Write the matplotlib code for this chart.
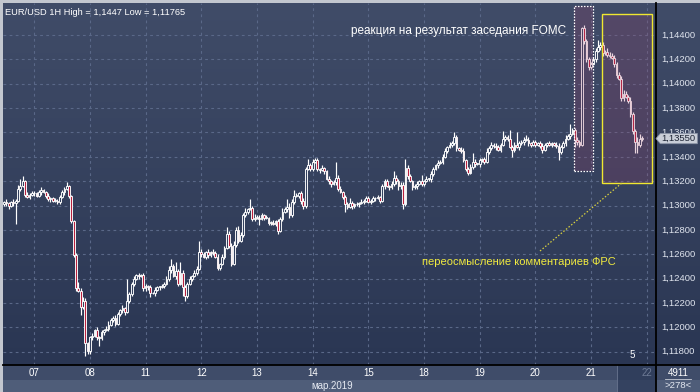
import numpy as np
import matplotlib
matplotlib.use("Agg")
import matplotlib.pyplot as plt
from matplotlib.patches import Rectangle, Polygon
from matplotlib.colors import LinearSegmentedColormap
from matplotlib.collections import LineCollection

plt.rcParams['font.family'] = ['Liberation Sans', 'DejaVu Sans']

# ---------------- data (EUR/USD, 1H candles) ----------------
first_open = 1.1301
close_mar06 = [1.1303, 1.1302, 1.1300, 1.1303, 1.1302, 1.1304, 1.1314, 1.1316, 1.1320, 1.1309, 1.1307, 1.1309, 1.1310]
close_mar07 = [1.1310, 1.1308, 1.1311, 1.1313, 1.1311, 1.1308, 1.1305, 1.1306, 1.1304, 1.1304, 1.1303, 1.1307,
               1.1311, 1.1314, 1.1316, 1.1308, 1.1287, 1.1259, 1.1232, 1.1230, 1.1217, 1.1222, 1.1187, 1.1181]
close_mar08 = [1.1192, 1.1193, 1.1198, 1.1192, 1.1191, 1.1196, 1.1198, 1.1199, 1.1202, 1.1206, 1.1208, 1.1203,
               1.1211, 1.1214, 1.1216, 1.1213, 1.1222, 1.1227, 1.1236, 1.1240, 1.1243, 1.1242, 1.1243, 1.1232]
close_mar11 = [1.1234, 1.1233, 1.1228, 1.1228, 1.1231, 1.1233, 1.1233, 1.1234, 1.1236, 1.1240, 1.1247, 1.1250,
               1.1242, 1.1246, 1.1236, 1.1245, 1.1233, 1.1226, 1.1236, 1.1240, 1.1242, 1.1245, 1.1248, 1.1262]
close_mar12 = [1.1260, 1.1258, 1.1262, 1.1259, 1.1262, 1.1261, 1.1258, 1.1249, 1.1252, 1.1258, 1.1265, 1.1277,
               1.1267, 1.1252, 1.1268, 1.1280, 1.1271, 1.1276, 1.1292, 1.1295, 1.1297, 1.1298, 1.1289, 1.1290]
close_mar13 = [1.1290, 1.1289, 1.1292, 1.1290, 1.1290, 1.1286, 1.1286, 1.1285, 1.1287, 1.1279, 1.1289, 1.1295,
               1.1297, 1.1299, 1.1292, 1.1303, 1.1308, 1.1308, 1.1310, 1.1304, 1.1300, 1.1330, 1.1333, 1.1330]
close_mar14 = [1.1336, 1.1337, 1.1330, 1.1329, 1.1331, 1.1328, 1.1322, 1.1320, 1.1318, 1.1319, 1.1323, 1.1314,
               1.1311, 1.1307, 1.1301, 1.1299, 1.1302, 1.1300, 1.1301, 1.1301, 1.1302, 1.1303, 1.1304, 1.1306]
close_mar15 = [1.1303, 1.1304, 1.1306, 1.1306, 1.1307, 1.1304, 1.1316, 1.1320, 1.1316, 1.1315, 1.1318, 1.1323,
               1.1320, 1.1316, 1.1317, 1.1301, 1.1331, 1.1324, 1.1320, 1.1315, 1.1316, 1.1318, 1.1320, 1.1318]
close_mar18 = [1.1320, 1.1322, 1.1322, 1.1326, 1.1330, 1.1333, 1.1335, 1.1336, 1.1340, 1.1345, 1.1348, 1.1350,
               1.1351, 1.1356, 1.1347, 1.1346, 1.1345, 1.1337, 1.1330, 1.1327, 1.1332, 1.1336, 1.1334, 1.1334]
close_mar19 = [1.1337, 1.1338, 1.1336, 1.1344, 1.1347, 1.1350, 1.1349, 1.1348, 1.1346, 1.1350, 1.1355, 1.1356,
               1.1355, 1.1348, 1.1346, 1.1350, 1.1348, 1.1351, 1.1352, 1.1354, 1.1354, 1.1351, 1.1350, 1.1352]
close_mar20 = [1.1350, 1.1351, 1.1349, 1.1346, 1.1350, 1.1351, 1.1350, 1.1351, 1.1350, 1.1349, 1.1344, 1.1348,
               1.1351, 1.1355, 1.1357, 1.1359, 1.1362, 1.1354, 1.1352, 1.1350, 1.1446, 1.1435, 1.1420, 1.1414]
close_mar21 = [1.1416, 1.1420, 1.1427, 1.1430, 1.1432, 1.1425, 1.1426, 1.1424, 1.1423, 1.1421, 1.1416, 1.1407,
               1.1404, 1.1388, 1.1392, 1.1389, 1.1386, 1.1375, 1.1361, 1.1352, 1.1350, 1.1355, 1.1355]

# upper / lower shadows in pips (beyond the candle body)
upper_mar06 = [1, 2, 1, 1, 2, 1, 3, 6, 4, 1, 2, 1, 2]
upper_mar07 = [2, 1, 2, 2, 1, 1, 2, 1, 1, 2, 1, 2, 2, 1, 3, 1, 1, 1, 2, 5, 2, 3, 2, 1]
upper_mar08 = [1, 2, 1, 2, 1, 2, 1, 2, 3, 2, 1, 2, 2, 1, 2, 1, 18, 2, 1, 2, 1, 2, 1, 2]
upper_mar11 = [2, 1, 2, 1, 2, 1, 1, 2, 1, 2, 3, 6, 2, 8, 2, 9, 2, 2, 1, 2, 1, 2, 2, 9]
upper_mar12 = [2, 2, 1, 2, 1, 2, 2, 2, 1, 2, 2, 5, 2, 2, 3, 2, 3, 2, 2, 3, 1, 7, 2, 3]
upper_mar13 = [2, 2, 2, 1, 2, 1, 1, 2, 1, 2, 2, 3, 2, 6, 3, 2, 5, 2, 1, 2, 2, 2, 5, 2]
upper_mar14 = [2, 2, 2, 1, 2, 1, 1, 2, 1, 2, 13, 2, 2, 1, 2, 2, 4, 2, 1, 2, 1, 2, 1, 2]
upper_mar15 = [2, 1, 2, 1, 2, 1, 2, 2, 2, 1, 2, 5, 2, 2, 2, 2, 7, 2, 2, 1, 2, 2, 1, 5]
upper_mar18 = [1, 2, 1, 2, 2, 1, 2, 1, 2, 2, 1, 2, 2, 4, 2, 1, 2, 2, 1, 2, 2, 7, 2, 1]
upper_mar19 = [2, 1, 2, 3, 2, 2, 1, 2, 2, 1, 6, 2, 2, 7, 2, 2, 10, 2, 2, 2, 4, 2, 1, 2]
upper_mar20 = [2, 1, 2, 2, 1, 1, 2, 1, 1, 2, 2, 2, 2, 3, 2, 8, 2, 2, 2, 2, 1, 2, 2, 2]
upper_mar21 = [2, 2, 2, 6, 2, 2, 2, 3, 2, 2, 3, 2, 3, 2, 3, 2, 2, 3, 2, 2, 4, 4, 2]

lower_mar06 = [1, 2, 3, 1, 2, 17, 1, 2, 1, 2, 1, 2, 1]
lower_mar07 = [2, 1, 1, 2, 1, 2, 1, 2, 1, 1, 2, 2, 1, 2, 1, 2, 1, 1, 2, 1, 7, 2, 10.5, 3]
lower_mar08 = [3, 2, 1, 2, 6, 1, 2, 1, 2, 1, 2, 2, 1, 2, 2, 3, 1, 2, 1, 2, 1, 2, 1, 2]
lower_mar11 = [2, 2, 3, 1, 2, 1, 2, 1, 2, 1, 2, 2, 1, 2, 2, 1, 7, 4, 2, 1, 2, 1, 2, 1]
lower_mar12 = [2, 1, 2, 2, 1, 2, 1, 2, 2, 1, 2, 1, 2, 2, 1, 2, 2, 1, 2, 1, 2, 1, 2, 2]
lower_mar13 = [1, 5, 1, 2, 1, 2, 2, 1, 2, 2, 1, 2, 1, 2, 2, 1, 2, 1, 2, 3, 3, 2, 1, 2]
lower_mar14 = [2, 1, 2, 2, 1, 2, 1, 2, 3, 1, 2, 2, 1, 2, 6, 2, 1, 3, 2, 1, 2, 1, 2, 1]
lower_mar15 = [1, 2, 1, 2, 1, 2, 1, 2, 1, 2, 1, 2, 2, 3, 2, 4, 1, 2, 1, 2, 1, 2, 1, 2]
lower_mar18 = [2, 1, 2, 3, 2, 1, 2, 1, 2, 1, 2, 1, 2, 1, 2, 1, 2, 1, 2, 2, 1, 2, 2, 1]
lower_mar19 = [2, 1, 2, 1, 2, 1, 2, 2, 1, 2, 1, 2, 2, 1, 6, 2, 1, 2, 1, 2, 1, 2, 2, 1]
lower_mar20 = [2, 1, 2, 3, 1, 2, 1, 2, 1, 2, 7, 2, 1, 2, 1, 2, 1, 6, 2, 2, 1, 2, 2, 3]
lower_mar21 = [2, 1, 2, 1, 2, 2, 1, 2, 2, 1, 2, 2, 1, 2, 2, 1, 2, 2, 2, 9, 7, 2, 2]

day_labels = ['07', '08', '11', '12', '13', '14', '15', '18', '19', '20', '21', '22']
bars_first_day = 13
bars_per_day = 24
price_ticks = [1.118, 1.120, 1.122, 1.124, 1.126, 1.128, 1.130, 1.132, 1.134, 1.136, 1.138, 1.140, 1.142, 1.144]
last_price = 1.1355
title = "EUR/USD 1H High = 1,1447 Low = 1,11765"
note_fomc = "реакция на результат заседания FOMC"
note_fed = "переосмысление комментариев ФРС"
month_label = "мар.2019"

# ---------------- assemble ----------------
closes = np.array(close_mar06 + close_mar07 + close_mar08 + close_mar11 + close_mar12 + close_mar13 +
                  close_mar14 + close_mar15 + close_mar18 + close_mar19 + close_mar20 + close_mar21)
upper = np.array(upper_mar06 + upper_mar07 + upper_mar08 + upper_mar11 + upper_mar12 + upper_mar13 +
                 upper_mar14 + upper_mar15 + upper_mar18 + upper_mar19 + upper_mar20 + upper_mar21) * 1e-4
lower = np.array(lower_mar06 + lower_mar07 + lower_mar08 + lower_mar11 + lower_mar12 + lower_mar13 +
                 lower_mar14 + lower_mar15 + lower_mar18 + lower_mar19 + lower_mar20 + lower_mar21) * 1e-4
opens = np.concatenate([[first_open], closes[:-1]])
highs = np.maximum(opens, closes) + upper
lows = np.minimum(opens, closes) - lower
n = len(closes)
day_starts = [bars_first_day + k * bars_per_day for k in range(len(day_labels))]

# ---------------- figure ----------------
W, H = 700, 392
fig = plt.figure(figsize=(W / 100, H / 100), dpi=100)
fig.patch.set_facecolor('#c3c7cf')


def px_axes(x0, y0, x1, y1):
    return fig.add_axes([x0 / W, 1 - y1 / H, (x1 - x0) / W, (y1 - y0) / H])


bg_cmap = LinearSegmentedColormap.from_list('bg', ['#2a3653', '#404c68'])
grad = np.linspace(0, 1, 256).reshape(-1, 1)

XL = (-0.47, 281.0)
YL = (1.11691, 1.14663)

ax = px_axes(3, 3, 656, 365)
ax.set_xlim(*XL)
ax.set_ylim(*YL)
ax.imshow(grad, extent=[XL[0], XL[1], YL[0], YL[1]], origin='lower', aspect='auto',
          cmap=bg_cmap, zorder=0, interpolation='bilinear')
for s in ax.spines.values():
    s.set_visible(False)
ax.set_xticks([])
ax.set_yticks([])

grid_kw = dict(color='#5a6888', lw=0.8, ls=(0, (2.5, 3)), zorder=1)
for p in price_ticks:
    ax.axhline(p, **grid_kw)
for d in day_starts:
    ax.axvline(d, **grid_kw)

# candles
segs = [[(i, lows[i]), (i, highs[i])] for i in range(n)]
ax.add_collection(LineCollection(segs, colors='white', linewidths=0.85, zorder=3))
bw = 0.76
for i in range(n):
    lo, hi = min(opens[i], closes[i]), max(opens[i], closes[i])
    h = max(hi - lo, 0.00006)
    fc = '#b8203e' if closes[i] < opens[i] else '#34415f'
    ax.add_patch(Rectangle((i - bw / 2, lo), bw, h, facecolor=fc, edgecolor='white',
                           lw=0.65, zorder=4))

# highlight boxes
ax.add_patch(Rectangle((245.6, 1.13283), 8.2, 1.14638 - 1.13283, facecolor='#a0406a', alpha=0.22,
                       edgecolor='none', zorder=5))
ax.add_patch(Rectangle((245.6, 1.13283), 8.2, 1.14638 - 1.13283, facecolor='none',
                       edgecolor='white', lw=0.9, ls=(0, (1.2, 1.2)), zorder=6))
ax.add_patch(Rectangle((257.7, 1.13185), 21.6, 1.14572 - 1.13185, facecolor='#a0406a', alpha=0.22,
                       edgecolor='none', zorder=5))
ax.add_patch(Rectangle((257.7, 1.13185), 21.6, 1.14572 - 1.13185, facecolor='none',
                       edgecolor='#f0e830', lw=1.0, zorder=6))
ax.plot([231.0, 266.3], [1.12627, 1.13185], color='#d8d040', lw=0.9, ls=(0, (1.2, 1.5)), zorder=6)

ax.text(0.003, 0.985, title, transform=ax.transAxes, color='white', fontsize=6.7, va='top', ha='left', zorder=7)
ax.text(563.5 / 653, 1 - 28 / 362, note_fomc, transform=ax.transAxes, color='white', fontsize=8.5,
        va='center', ha='right', zorder=7)
ax.text(613 / 653, 1 - 259 / 362, note_fed, transform=ax.transAxes, color='#f0ea40', fontsize=8.0,
        va='center', ha='right', zorder=7)
ax.text(629 / 653, 1 - 352 / 362, '5', transform=ax.transAxes, color='white', fontsize=7,
        va='center', ha='center', zorder=7)

# right price panel
axr = px_axes(656, 3, 700, 365)
axr.set_xlim(0, 1)
axr.set_ylim(*YL)
axr.imshow(grad, extent=[0, 1, YL[0], YL[1]], origin='lower', aspect='auto', cmap=bg_cmap,
           zorder=0, interpolation='bilinear')
axr.set_xticks([])
axr.set_yticks([])
for k, s in axr.spines.items():
    s.set_visible(k == 'left')
axr.spines['left'].set_color('black')
axr.spines['left'].set_linewidth(1.3)
for p in price_ticks:
    lab = f"{p:.5f}".replace('.', ',')
    axr.text(0.12, p, lab, color='#dfe4ee', fontsize=6.8, va='center', ha='left', zorder=2)
hb = 0.00042
axr.add_patch(Polygon([(0.0, last_price), (0.1, last_price + hb), (0.94, last_price + hb),
                       (0.94, last_price - hb), (0.1, last_price - hb)], closed=True,
                      facecolor='#c9ced8', edgecolor='#8a93a6', lw=0.6, zorder=3, clip_on=False))
axr.text(0.13, last_price, f"{last_price:.5f}".replace('.', ','), color='#1e2535', fontsize=6.8,
         va='center', ha='left', zorder=4)

# bottom time axis
axb = px_axes(3, 365, 656, 392)
axb.set_xlim(*XL)
axb.set_ylim(0, 27)
axb.set_xticks([])
axb.set_yticks([])
for k, s in axb.spines.items():
    s.set_visible(k == 'top')
axb.spines['top'].set_color('black')
axb.spines['top'].set_linewidth(1.3)
axb.add_patch(Rectangle((XL[0], 12), XL[1] - XL[0], 15, facecolor='#3f4c69', edgecolor='none', zorder=0))
axb.add_patch(Rectangle((XL[0], 0), XL[1] - XL[0], 12, facecolor='#4f5d79', edgecolor='none', zorder=0))
axb.add_patch(Rectangle((264.0, 0), XL[1] - 264.0, 27, facecolor='#2c3a58', alpha=0.75,
                        edgecolor='none', zorder=1))
axb.plot([264.0, 264.0], [0, 27], color='#6a7690', lw=0.6, zorder=1)
for d, lab in zip(day_starts, day_labels):
    col = '#6d7a95' if lab == day_labels[-1] else 'white'
    axb.text(d, 19.5, lab, color=col, fontsize=7, ha='center', va='center', zorder=2)
axb.text(141.5, 6.0, month_label, color='#e6eaf2', fontsize=7, ha='center', va='center', zorder=2)

# bottom-right corner
axc = px_axes(656, 365, 700, 392)
axc.set_xlim(0, 1)
axc.set_ylim(0, 27)
axc.set_xticks([])
axc.set_yticks([])
axc.set_facecolor('#3f4c69')
for k, s in axc.spines.items():
    s.set_visible(k in ('top', 'left'))
    s.set_color('black')
    s.set_linewidth(1.3)
axc.add_patch(Rectangle((0, 0), 1, 12, facecolor='#4f5d79', edgecolor='none', zorder=0))
axc.text(0.5, 19.5, '4911', color='white', fontsize=7, ha='center', va='center')
axc.plot([0.2, 0.8], [13.0, 13.0], color='#c8ccd6', lw=0.6)
axc.text(0.5, 6.0, '>278<', color='#e6eaf2', fontsize=6.8, ha='center', va='center')

fig.savefig('out.png', dpi=100, facecolor=fig.get_facecolor())
